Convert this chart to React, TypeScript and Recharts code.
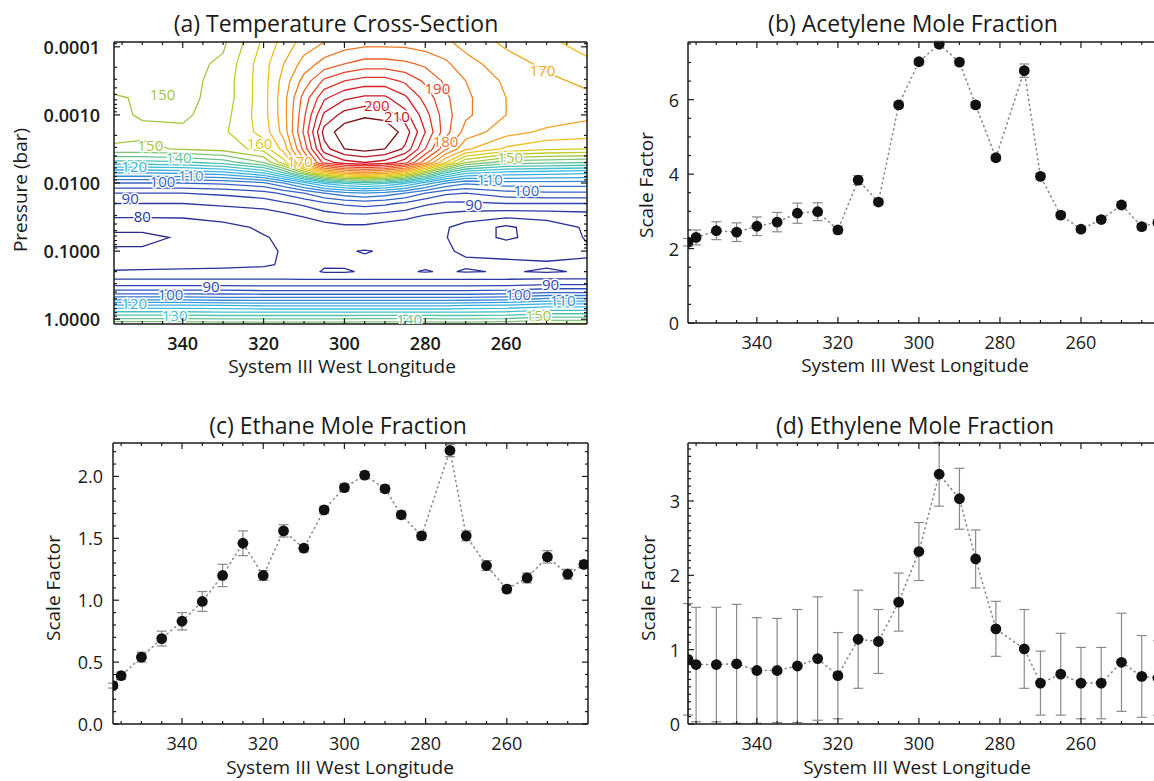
import React from 'react';
import { ComposedChart, Line, Scatter, XAxis, YAxis, ErrorBar } from 'recharts';

const FONT = "'Open Sans', 'Liberation Sans', Arial, sans-serif";
const INK = '#1a1a1a';
const GRAY = '#8a8a8a';

// retrieval longitudes (System III West) shared by panels b-d
const lons = [357, 355, 350, 345, 340, 335, 330, 325, 320, 315, 310, 305, 300, 295, 290, 286, 281, 274, 270, 265, 260, 255, 250, 245, 241];

// (b) acetylene scale factor
const acetylene = [2.17, 2.30, 2.48, 2.44, 2.60, 2.71, 2.95, 2.99, 2.50, 3.84, 3.25, 5.86, 7.02, 7.49, 7.01, 5.86, 4.44, 6.78, 3.94, 2.90, 2.52, 2.78, 3.17, 2.59, 2.70];
const acetyleneErr = [0.1, 0.2, 0.24, 0.25, 0.25, 0.26, 0.27, 0.24, 0.1, 0.12, 0.08, 0.08, 0.08, 0.08, 0.08, 0.08, 0.08, 0.18, 0.08, 0.08, 0.08, 0.08, 0.08, 0.08, 0.08];

// (c) ethane scale factor
const ethane = [0.31, 0.39, 0.54, 0.69, 0.83, 0.99, 1.20, 1.46, 1.20, 1.56, 1.42, 1.73, 1.91, 2.01, 1.90, 1.69, 1.52, 2.21, 1.52, 1.28, 1.09, 1.18, 1.35, 1.21, 1.29];
const ethaneErr = [0.02, 0.03, 0.04, 0.06, 0.07, 0.08, 0.09, 0.1, 0.04, 0.05, 0.03, 0.03, 0.03, 0.03, 0.03, 0.03, 0.03, 0.05, 0.04, 0.04, 0.03, 0.04, 0.05, 0.04, 0.03];

// (d) ethylene scale factor
const ethylene = [0.87, 0.80, 0.80, 0.81, 0.72, 0.72, 0.78, 0.88, 0.65, 1.14, 1.11, 1.64, 2.32, 3.36, 3.03, 2.22, 1.28, 1.01, 0.55, 0.67, 0.55, 0.55, 0.83, 0.64, 0.62];
const ethyleneErr = [0.75, 0.77, 0.77, 0.8, 0.71, 0.7, 0.76, 0.83, 0.58, 0.66, 0.43, 0.39, 0.39, 0.43, 0.41, 0.39, 0.37, 0.53, 0.43, 0.55, 0.48, 0.48, 0.66, 0.55, 0.5];

// tick labels
const lonTicks = [340, 320, 300, 280, 260];
const pressureTicks = [0.0001, 0.001, 0.01, 0.1, 1];
const acetyleneTicks = [0, 2, 4, 6];
const ethaneTicks = [0, 0.5, 1.0, 1.5, 2.0];
const ethyleneTicks = [0, 1, 2, 3];

// (a) temperature cross-section, K
const gridLons = [357, 350, 340, 330, 320, 315, 310, 305, 300, 295, 290, 285, 280, 275, 270, 260, 250, 240];
const gridPressures = [8.5e-5, 1.78e-4, 3.16e-4, 5.6e-4, 1e-3, 1.78e-3, 3.16e-3, 5.0e-3, 7.1e-3, 0.01, 0.0141, 0.02, 0.0316, 0.0447, 0.0631, 0.1, 0.158, 0.2, 0.251, 0.316, 0.398, 0.5, 0.631, 0.794, 1.0, 1.175];
const temperatures = [
  [146, 146, 147, 149, 161, 167, 172, 175, 177, 178, 178, 178, 177, 176, 173, 169, 166, 163],
  [147, 147, 148, 151, 163, 170, 177, 182, 185, 187, 187, 186, 184, 181, 177, 172, 169, 166],
  [148, 148, 148, 152, 163, 172, 182, 191, 195, 197, 197, 194, 189, 184, 180, 174, 171, 169],
  [150.5, 149.5, 148.5, 152, 163, 173, 187, 199, 204, 206, 206, 201, 193, 186, 181, 175, 173, 171],
  [151, 149.5, 149, 153, 163, 173, 189, 206, 212, 214, 213, 207, 197, 187, 181, 175, 173, 171],
  [152, 151, 151, 154, 162, 172, 191, 212, 218, 220, 219, 213, 200, 187, 178, 172, 169, 168],
  [149, 149, 150.5, 152, 157, 167, 187, 208, 215, 217, 215, 209, 195, 181, 171, 164, 161, 160],
  [133, 133, 134, 137, 145, 158, 178, 197, 203, 205, 203, 197, 182, 165, 150, 142, 141, 140],
  [115, 115, 116, 118, 125, 135, 150, 165, 172, 175, 172, 165, 150, 135, 126, 123, 122, 121],
  [100, 100, 100, 101, 104, 110, 118, 126, 131, 133, 131, 126, 118, 110, 106, 108, 108, 108],
  [90, 90, 90, 91, 93, 96, 100, 105, 108, 110, 108, 105, 100, 96, 95, 98, 99, 99],
  [85, 85, 85, 86, 87, 89, 91, 94, 96, 97, 96, 94, 91, 89, 89, 90, 90, 90],
  [80.2, 80.2, 80.3, 81, 82, 83, 85, 87, 88, 88, 87, 86, 84, 83, 82, 80.5, 81, 82],
  [76, 76, 77, 79, 80.5, 81, 82, 83, 84, 84, 83, 82, 81, 80.5, 78, 74, 78, 80.5],
  [74, 74, 75.5, 78, 79.8, 80.5, 81, 82, 82.5, 82.5, 82, 81, 80.5, 80.2, 78, 74, 77.5, 80.3],
  [75.5, 75.5, 76.5, 78.5, 79.5, 80.2, 80.6, 80.6, 80.3, 79.8, 80.3, 80.6, 80.5, 80.3, 79.6, 79.4, 78.5, 79.5],
  [78, 78, 78.5, 79, 79.5, 80.4, 81, 80.5, 80.6, 80.8, 80.8, 80.6, 80.8, 80.6, 80.5, 80.4, 80.5, 80.5],
  [80.5, 80.8, 81, 81, 81.2, 81.5, 82, 79.5, 79.5, 80.5, 81, 80.5, 79.7, 80.5, 79.6, 80.4, 79.5, 80.5],
  [84.5, 84.5, 84.5, 84.5, 84.5, 84.5, 84.2, 84.2, 84.2, 84.2, 84.2, 84.2, 84.2, 84.2, 84.2, 84.3, 84.6, 84.6],
  [89.5, 89.5, 89.5, 89.5, 89.2, 89.2, 89.2, 89.2, 89.2, 89.2, 89.2, 89.2, 89.2, 89.2, 89.2, 89.4, 90.5, 90.5],
  [97, 97, 97, 97, 96.5, 96.5, 96.5, 96.5, 96.5, 96.5, 96.5, 96.5, 96.5, 96.5, 96.5, 97, 99, 99],
  [108, 108, 108, 107, 107, 107, 107, 107, 107, 107, 107, 107, 107, 107, 107, 108, 110.5, 110.5],
  [121, 121, 121, 120.5, 119.5, 119.5, 119.5, 119.5, 119.5, 119.5, 119.5, 119.5, 119.5, 119.5, 120.5, 121, 123, 123],
  [131, 131, 131, 130.5, 130.5, 130.5, 130.5, 130.5, 130.5, 130.5, 130.5, 130.5, 130.5, 130.5, 130.5, 131, 133, 133],
  [141, 141, 141, 140.5, 140.5, 140.5, 140.5, 140.5, 140.5, 141, 141, 141, 141, 140.5, 140.5, 141, 143, 143],
  [149, 149, 149, 148, 148, 148, 148, 148, 148, 148, 148, 148, 148, 148, 148, 149, 151, 151],
];
const contourLevels = [75, 80, 85, 90, 95, 100, 105, 110, 115, 120, 125, 130, 135, 140, 145, 150, 155, 160, 165, 170, 175, 180, 185, 190, 195, 200, 205, 210, 215];
const contourLabels = [
  { lon: 345, p: 0.0005, text: '150' },
  { lon: 348, p: 0.0028, text: '150' },
  { lon: 341, p: 0.0041, text: '140' },
  { lon: 352, p: 0.0057, text: '120' },
  { lon: 338, p: 0.0075, text: '110' },
  { lon: 345, p: 0.0092, text: '100' },
  { lon: 353, p: 0.0165, text: '90' },
  { lon: 350, p: 0.031, text: '80' },
  { lon: 321, p: 0.0026, text: '160' },
  { lon: 311, p: 0.0048, text: '170' },
  { lon: 277, p: 0.0004, text: '190' },
  { lon: 292, p: 0.00072, text: '200' },
  { lon: 287, p: 0.00105, text: '210' },
  { lon: 275, p: 0.0024, text: '180' },
  { lon: 251, p: 0.00022, text: '170' },
  { lon: 259, p: 0.0042, text: '150' },
  { lon: 264, p: 0.0088, text: '110' },
  { lon: 255, p: 0.0125, text: '100' },
  { lon: 268, p: 0.02, text: '90' },
  { lon: 333, p: 0.32, text: '90' },
  { lon: 343, p: 0.42, text: '100' },
  { lon: 352, p: 0.58, text: '120' },
  { lon: 342, p: 0.86, text: '130' },
  { lon: 249, p: 0.3, text: '90' },
  { lon: 257, p: 0.42, text: '100' },
  { lon: 246, p: 0.53, text: '110' },
  { lon: 252, p: 0.86, text: '150' },
  { lon: 284, p: 1.0, text: '140' },
];

// ---------- helpers ----------
const LON_DOMAIN: [number, number] = [240, 357];
const lonAllTicks = [355, 350, 345, 340, 335, 330, 325, 320, 315, 310, 305, 300, 295, 290, 285, 280, 275, 270, 265, 260, 255, 250, 245];

const gridLogP = gridPressures.map((p) => Math.log10(p));
const P_DOMAIN: [number, number] = [gridLogP[0], gridLogP[gridLogP.length - 1]];
const logMajor = pressureTicks.map((p) => Math.log10(p));
const logAllTicks: number[] = [];
for (let d = -5; d <= 0; d++) {
  for (let k = 1; k <= 9; k++) {
    const v = d + Math.log10(k);
    if (v >= P_DOMAIN[0] && v <= P_DOMAIN[1]) logAllTicks.push(v);
  }
}

function stepTicks(max: number, step: number) {
  const out: number[] = [];
  for (let i = 0; i * step <= max + 1e-9; i++) out.push(+(i * step).toFixed(3));
  return out;
}

const COLOR_STOPS: [number, string][] = [
  [75, '#27288a'], [85, '#2b38a3'], [95, '#3050bd'], [105, '#3576cf'], [115, '#35a0dc'],
  [125, '#3dbddf'], [135, '#4cc2b0'], [145, '#7dc378'], [150, '#a0c63d'], [158, '#cfcf1f'],
  [165, '#f1c01b'], [172, '#f4a01d'], [180, '#f07a22'], [190, '#e8462a'], [200, '#d92027'],
  [210, '#b5141f'], [215, '#7a1014'],
];
function levelColor(t: number) {
  const hex = (h: string) => [1, 3, 5].map((i) => parseInt(h.slice(i, i + 2), 16));
  if (t <= COLOR_STOPS[0][0]) return COLOR_STOPS[0][1];
  for (let i = 0; i < COLOR_STOPS.length - 1; i++) {
    const [t0, c0] = COLOR_STOPS[i];
    const [t1, c1] = COLOR_STOPS[i + 1];
    if (t <= t1) {
      const f = (t - t0) / (t1 - t0);
      const a = hex(c0), b = hex(c1);
      return `rgb(${a.map((v, j) => Math.round(v + (b[j] - v) * f)).join(',')})`;
    }
  }
  return COLOR_STOPS[COLOR_STOPS.length - 1][1];
}

type Pt = [number, number];

// join marching-squares segments into polylines
function chain(segs: [Pt, Pt][]) {
  const key = (p: Pt) => `${p[0].toFixed(6)},${p[1].toFixed(6)}`;
  const byKey = new Map<string, number[]>();
  segs.forEach((s, i) => s.forEach((p) => {
    const k = key(p);
    if (!byKey.has(k)) byKey.set(k, []);
    byKey.get(k)!.push(i);
  }));
  const used = segs.map(() => false);
  const lines: Pt[][] = [];
  const grow = (line: Pt[], atEnd: boolean) => {
    for (;;) {
      const tip = atEnd ? line[line.length - 1] : line[0];
      const next = (byKey.get(key(tip)) || []).find((j) => !used[j]);
      if (next === undefined) return;
      used[next] = true;
      const s = segs[next];
      const other = key(s[0]) === key(tip) ? s[1] : s[0];
      if (atEnd) line.push(other); else line.unshift(other);
    }
  };
  segs.forEach((s, i) => {
    if (used[i]) return;
    used[i] = true;
    const line: Pt[] = [s[0], s[1]];
    grow(line, true);
    grow(line, false);
    lines.push(line);
  });
  return lines;
}

function contourLines(xs: number[], ys: number[], z: number[][], level: number) {
  const segs: [Pt, Pt][] = [];
  const lerp = (p: number, q: number, vp: number, vq: number) => p + ((level - vp) / (vq - vp)) * (q - p);
  for (let j = 0; j < ys.length - 1; j++) {
    for (let i = 0; i < xs.length - 1; i++) {
      const a = z[j][i], b = z[j][i + 1], c = z[j + 1][i + 1], d = z[j + 1][i];
      const ua = a > level, ub = b > level, uc = c > level, ud = d > level;
      const pts: Record<string, Pt> = {};
      if (ua !== ub) pts.t = [lerp(xs[i], xs[i + 1], a, b), ys[j]];
      if (ub !== uc) pts.r = [xs[i + 1], lerp(ys[j], ys[j + 1], b, c)];
      if (ud !== uc) pts.b = [lerp(xs[i], xs[i + 1], d, c), ys[j + 1]];
      if (ua !== ud) pts.l = [xs[i], lerp(ys[j], ys[j + 1], a, d)];
      const ks = Object.keys(pts);
      if (ks.length === 2) segs.push([pts[ks[0]], pts[ks[1]]]);
      else if (ks.length === 4) {
        const centre = (a + b + c + d) / 4 > level;
        if (centre === ua) segs.push([pts.t, pts.r], [pts.b, pts.l]);
        else segs.push([pts.t, pts.l], [pts.r, pts.b]);
      }
    }
  }
  return chain(segs);
}

const contourSeries = contourLevels.map((level) => {
  const data: { x: number; y: number | null }[] = [];
  contourLines(gridLons, gridLogP, temperatures, level).forEach((ln) => {
    ln.forEach(([x, y]) => data.push({ x, y }));
    data.push({ x: ln[ln.length - 1][0], y: null });
  });
  return { level, data, color: levelColor(level) };
});

const labelData = contourLabels.map((l) => ({ x: l.lon, y: Math.log10(l.p), text: l.text, color: levelColor(Number(l.text)) }));

const ContourLabel = (props: any) => {
  const { cx, cy, payload } = props;
  return (
    <text x={cx} y={cy} textAnchor="middle" dominantBaseline="central" fontSize={15} fontFamily={FONT}
      fill={payload.color} stroke="#fff" strokeWidth={3} paintOrder="stroke">
      {payload.text}
    </text>
  );
};

type Side = 'bottom' | 'top' | 'left' | 'right';

// inward IDL-style ticks, long for majors and short for minors
function tickRenderer(side: Side, majors: number[], opts: { fmt?: (v: number) => string; gap?: number; weight?: number } = {}) {
  return (props: any) => {
    const { x, y, payload } = props;
    const v = payload.value;
    const isMajor = majors.some((m) => Math.abs(m - v) < 1e-6);
    const len = isMajor ? 6 : 3;
    let x2 = x, y2 = y;
    if (side === 'bottom') y2 = y - len;
    if (side === 'top') y2 = y + len;
    if (side === 'left') x2 = x + len;
    if (side === 'right') x2 = x - len;
    let label = null;
    if (isMajor && opts.fmt) {
      const common = { fontSize: 18, fontFamily: FONT, fontWeight: opts.weight ?? 400, fill: INK, dominantBaseline: 'central' as const };
      if (side === 'bottom') label = <text x={x} y={y + (opts.gap ?? 19)} textAnchor="middle" {...common}>{opts.fmt(v)}</text>;
      if (side === 'left') label = <text x={x - (opts.gap ?? 10)} y={y} textAnchor="end" {...common}>{opts.fmt(v)}</text>;
    }
    return (
      <g>
        <line x1={x} y1={y} x2={x2} y2={y2} stroke={INK} strokeWidth={1.2} />
        {label}
      </g>
    );
  };
}

function frameAxes(cfg: {
  yDomain: [number, number]; yTicks: number[]; yMajor: number[]; yFmt: (v: number) => string;
  yGap: number; weight: number; yReversed?: boolean;
}) {
  const axisLine = { stroke: INK, strokeWidth: 1.5 };
  const xCommon = { type: 'number' as const, dataKey: 'x', domain: LON_DOMAIN, reversed: true, allowDataOverflow: true, ticks: lonAllTicks, interval: 0, tickLine: false, tickSize: 0, tickMargin: 0, height: 1, axisLine };
  const yCommon = { type: 'number' as const, domain: cfg.yDomain, reversed: !!cfg.yReversed, allowDataOverflow: true, ticks: cfg.yTicks, interval: 0, tickLine: false, tickSize: 0, tickMargin: 0, width: 1, axisLine };
  return [
    <XAxis key="xb" xAxisId="b" orientation="bottom" {...xCommon} tick={tickRenderer('bottom', lonTicks, { fmt: (v) => String(v), weight: cfg.weight })} />,
    <XAxis key="xt" xAxisId="t" orientation="top" {...xCommon} tick={tickRenderer('top', lonTicks)} />,
    <YAxis key="yl" yAxisId="l" orientation="left" {...yCommon} tick={tickRenderer('left', cfg.yMajor, { fmt: cfg.yFmt, gap: cfg.yGap, weight: cfg.weight })} />,
    <YAxis key="yr" yAxisId="r" orientation="right" {...yCommon} tick={tickRenderer('right', cfg.yMajor)} />,
  ];
}

function TemperaturePanel() {
  return (
    <ComposedChart width={600} height={390} margin={{ top: 41, right: 12, bottom: 65, left: 113 }}>
      {frameAxes({
        yDomain: P_DOMAIN, yTicks: logAllTicks, yMajor: logMajor,
        yFmt: (v) => Math.pow(10, v).toFixed(4), yGap: 14, weight: 600, yReversed: true,
      })}
      {contourSeries.map((c) => (
        <Line key={c.level} xAxisId="b" yAxisId="l" data={c.data} dataKey="y" stroke={c.color} strokeWidth={1.3}
          dot={false} activeDot={false} connectNulls={false} isAnimationActive={false} />
      ))}
      <Scatter xAxisId="b" yAxisId="l" data={labelData} dataKey="y" shape={ContourLabel} isAnimationActive={false} />
      <Line xAxisId="t" yAxisId="r" data={[{ x: 300, y: -2 }, { x: 290, y: -2 }]} dataKey="y" stroke="none"
        dot={false} activeDot={false} isAnimationActive={false} />
    </ComposedChart>
  );
}

function ProfilePanel({ values, errors, yMax, yMajor, minorStep, yFmt, yGap, height, margin }: {
  values: number[]; errors: number[]; yMax: number; yMajor: number[]; minorStep: number;
  yFmt: (v: number) => string; yGap: number; height: number;
  margin: { top: number; right: number; bottom: number; left: number };
}) {
  const data = lons.map((x, i) => ({ x, y: values[i], err: errors[i] }));
  return (
    <ComposedChart width={600} height={height} data={data} margin={margin}>
      {frameAxes({ yDomain: [0, yMax], yTicks: stepTicks(yMax, minorStep), yMajor, yFmt, yGap, weight: 400 })}
      <Line xAxisId="b" yAxisId="l" dataKey="y" type="linear" stroke={GRAY} strokeWidth={1.6} strokeDasharray="1 4"
        strokeLinecap="round" dot={{ r: 5.4, fill: '#111', stroke: 'none' }} activeDot={false} isAnimationActive={false}>
        <ErrorBar dataKey="err" width={5} stroke={GRAY} strokeWidth={1.2} direction="y" />
      </Line>
      <Line xAxisId="t" yAxisId="r" dataKey="y" stroke="none" dot={false} activeDot={false} isAnimationActive={false} />
    </ComposedChart>
  );
}

export default function App() {
  const textStyle = { fontFamily: FONT, fill: INK };
  return (
    <div style={{ position: 'absolute', left: 0, top: 0, width: 1154, height: 781, overflow: 'hidden', background: '#fff' }}>
      <div style={{ position: 'absolute', left: 0, top: 0 }}>
        <TemperaturePanel />
      </div>
      <div style={{ position: 'absolute', left: 600, top: 0 }}>
        <ProfilePanel values={acetylene} errors={acetyleneErr} yMax={7.55} yMajor={acetyleneTicks} minorStep={0.5}
          yFmt={(v) => String(v)} yGap={9} height={390} margin={{ top: 41, right: 37, bottom: 66, left: 87 }} />
      </div>
      <div style={{ position: 'absolute', left: 0, top: 390 }}>
        <ProfilePanel values={ethane} errors={ethaneErr} yMax={2.27} yMajor={ethaneTicks} minorStep={0.1}
          yFmt={(v) => v.toFixed(1)} yGap={10} height={391} margin={{ top: 52, right: 11, bottom: 56, left: 112 }} />
      </div>
      <div style={{ position: 'absolute', left: 600, top: 390 }}>
        <ProfilePanel values={ethylene} errors={ethyleneErr} yMax={3.78} yMajor={ethyleneTicks} minorStep={0.1}
          yFmt={(v) => String(v)} yGap={8} height={391} margin={{ top: 52, right: 37, bottom: 56, left: 87 }} />
      </div>

      {/* titles and axis names */}
      <svg width={1154} height={781} style={{ position: 'absolute', left: 0, top: 0, pointerEvents: 'none' }}>
        <g {...textStyle} fontSize={23} textAnchor="middle">
          <text x={336} y={32}>(a) Temperature Cross-Section</text>
          <text x={913} y={32}>(b) Acetylene Mole Fraction</text>
          <text x={338} y={434}>(c) Ethane Mole Fraction</text>
          <text x={915} y={434}>(d) Ethylene Mole Fraction</text>
        </g>
        <g {...textStyle} fontSize={19} textAnchor="middle">
          <text x={342} y={373}>System III West Longitude</text>
          <text x={915} y={372}>System III West Longitude</text>
          <text x={340} y={774}>System III West Longitude</text>
          <text x={917} y={774}>System III West Longitude</text>
          <text transform="translate(20,190) rotate(-90)" dominantBaseline="central">Pressure (bar)</text>
          <text transform="translate(646,185) rotate(-90)" dominantBaseline="central">Scale Factor</text>
          <text transform="translate(53,588) rotate(-90)" dominantBaseline="central">Scale Factor</text>
          <text transform="translate(648,588) rotate(-90)" dominantBaseline="central">Scale Factor</text>
        </g>
      </svg>
    </div>
  );
}
